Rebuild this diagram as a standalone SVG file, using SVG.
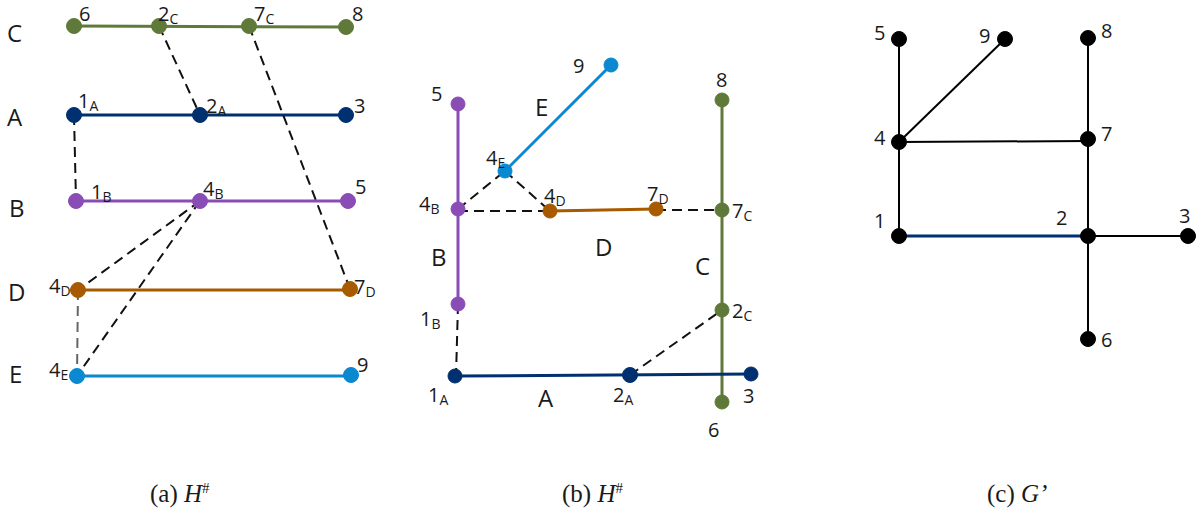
<svg xmlns="http://www.w3.org/2000/svg" width="1200" height="510" viewBox="0 0 1200 510">
<style>
text{font-family:"Open Sans","Noto Sans","DejaVu Sans",sans-serif;fill:#1a1a1a;}
.n{font-size:20px;}
.s{font-size:14px;}
.big{font-size:24px;}
.cap{font-family:"Liberation Serif",serif;font-size:25px;}
.dash{stroke:#111;stroke-width:2;stroke-dasharray:10,6;fill:none;}
.gdash{stroke:#666;stroke-width:2;stroke-dasharray:10,6;fill:none;}
.olive{stroke:#5f7a38;fill:#5f7a38;}
.navy{stroke:#003070;fill:#003070;}
.purple{stroke:#8a4cb5;fill:#8a4cb5;}
.brown{stroke:#a85a00;fill:#a85a00;}
.blue{stroke:#0a88d0;fill:#0a88d0;}
.blk{stroke:#000;fill:#000;}
line{stroke-width:3;}
</style>
<rect width="1200" height="510" fill="#fff"/>

<!-- Panel a -->
<g id="connectors-a">
<line class="olive" x1="74" y1="26" x2="346" y2="27"/>
<line class="navy" x1="74" y1="115" x2="346" y2="115"/>
<line class="purple" x1="76" y1="201" x2="348" y2="201"/>
<line class="brown" x1="78" y1="290" x2="350" y2="290"/>
<line class="blue" x1="77" y1="376" x2="351" y2="376"/>
<path class="dash" d="M159,26 L200,115"/>
<path class="dash" d="M249,26 L350,289"/>
<path class="dash" d="M74,115 L76,201"/>
<path class="dash" d="M200,201 L78,290"/>
<path class="dash" d="M200,201 L77,376"/>
<path class="gdash" d="M78,290 L77,376"/>
</g>
<g id="labels-a">
<text class="big" x="7" y="42">C</text>
<text class="big" x="7" y="126">A</text>
<text class="big" x="9" y="217">B</text>
<text class="big" x="8" y="301">D</text>
<text class="big" x="9" y="383">E</text>
</g>
<g id="a-6"><circle class="olive" cx="74" cy="26" r="7.5"/><text class="n" x="79" y="21">6</text></g>
<g id="a-2C"><circle class="olive" cx="159" cy="26" r="7.5"/><text class="n" x="158" y="21">2<tspan class="s" dy="3">C</tspan></text></g>
<g id="a-7C"><circle class="olive" cx="249" cy="26" r="7.5"/><text class="n" x="254" y="21">7<tspan class="s" dy="3">C</tspan></text></g>
<g id="a-8"><circle class="olive" cx="346" cy="27" r="7.5"/><text class="n" x="352" y="21">8</text></g>
<g id="a-1A"><circle class="navy" cx="74" cy="115" r="7.5"/><text class="n" x="78" y="108">1<tspan class="s" dy="3">A</tspan></text></g>
<g id="a-2A"><circle class="navy" cx="200" cy="115" r="7.5"/><text class="n" x="206" y="113">2<tspan class="s" dy="3">A</tspan></text></g>
<g id="a-3"><circle class="navy" cx="346" cy="115" r="7.5"/><text class="n" x="354" y="113">3</text></g>
<g id="a-1B"><circle class="purple" cx="76" cy="201" r="7.5"/><text class="n" x="91" y="199">1<tspan class="s" dy="3">B</tspan></text></g>
<g id="a-4B"><circle class="purple" cx="200" cy="201" r="7.5"/><text class="n" x="203" y="196">4<tspan class="s" dy="3">B</tspan></text></g>
<g id="a-5"><circle class="purple" cx="348" cy="201" r="7.5"/><text class="n" x="355" y="194">5</text></g>
<g id="a-4D"><circle class="brown" cx="78" cy="290" r="7.5"/><text class="n" x="49" y="293">4<tspan class="s" dy="3">D</tspan></text></g>
<g id="a-7D"><circle class="brown" cx="350" cy="289" r="7.5"/><text class="n" x="354" y="294">7<tspan class="s" dy="3">D</tspan></text></g>
<g id="a-4E"><circle class="blue" cx="77" cy="376" r="7.5"/><text class="n" x="49" y="377">4<tspan class="s" dy="3">E</tspan></text></g>
<g id="a-9"><circle class="blue" cx="351" cy="375" r="7.5"/><text class="n" x="357" y="372">9</text></g>

<!-- Panel b -->
<g id="connectors-b">
<line class="purple" x1="458" y1="104" x2="458" y2="304"/>
<line class="blue" x1="505" y1="171" x2="611" y2="65"/>
<line class="brown" x1="550" y1="211" x2="656" y2="209"/>
<line class="olive" x1="722" y1="100" x2="722" y2="402"/>
<line class="navy" x1="455" y1="376" x2="751" y2="374"/>
<path class="dash" d="M458,209 L505,171"/>
<path class="dash" d="M505,171 L550,211"/>
<path class="dash" d="M458,211 L550,211"/>
<path class="dash" d="M656,210 L722,210"/>
<path class="dash" d="M458,304 L456,376"/>
<path class="dash" d="M630,375 L722,310"/>
</g>
<g id="labels-b">
<text class="big" x="535" y="116">E</text>
<text class="big" x="595" y="256">D</text>
<text class="big" x="431" y="266">B</text>
<text class="big" x="695" y="275">C</text>
<text class="big" x="538" y="407">A</text>
</g>
<g id="b-5"><circle class="purple" cx="458" cy="104" r="7"/><text class="n" x="431" y="101">5</text></g>
<g id="b-4B"><circle class="purple" cx="458" cy="209" r="7"/><text class="n" x="419" y="211">4<tspan class="s" dy="3">B</tspan></text></g>
<g id="b-1B"><circle class="purple" cx="458" cy="304" r="7"/><text class="n" x="420" y="326">1<tspan class="s" dy="3">B</tspan></text></g>
<g id="b-4E"><circle class="blue" cx="505" cy="171" r="7"/><text class="n" x="486" y="165">4<tspan class="s" dy="3">E</tspan></text></g>
<g id="b-9"><circle class="blue" cx="611" cy="65" r="7"/><text class="n" x="573" y="73">9</text></g>
<g id="b-4D"><circle class="brown" cx="550" cy="211" r="7"/><text class="n" x="544" y="203">4<tspan class="s" dy="3">D</tspan></text></g>
<g id="b-7D"><circle class="brown" cx="656" cy="209" r="7"/><text class="n" x="647" y="201">7<tspan class="s" dy="3">D</tspan></text></g>
<g id="b-8"><circle class="olive" cx="722" cy="100" r="7"/><text class="n" x="716" y="87">8</text></g>
<g id="b-7C"><circle class="olive" cx="722" cy="210" r="7"/><text class="n" x="732" y="218">7<tspan class="s" dy="3">C</tspan></text></g>
<g id="b-2C"><circle class="olive" cx="722" cy="310" r="7"/><text class="n" x="732" y="318">2<tspan class="s" dy="3">C</tspan></text></g>
<g id="b-6"><circle class="olive" cx="722" cy="402" r="7"/><text class="n" x="708" y="437">6</text></g>
<g id="b-1A"><circle class="navy" cx="455" cy="376" r="7"/><text class="n" x="428" y="402">1<tspan class="s" dy="3">A</tspan></text></g>
<g id="b-2A"><circle class="navy" cx="630" cy="375" r="7.5"/><text class="n" x="613" y="402">2<tspan class="s" dy="3">A</tspan></text></g>
<g id="b-3"><circle class="navy" cx="751" cy="374" r="7"/><text class="n" x="743" y="403">3</text></g>

<!-- Panel c -->
<g id="connectors-c">
<line class="blk" style="stroke-width:2" x1="899" y1="39" x2="899" y2="236"/>
<line class="blk" style="stroke-width:2" x1="899" y1="142" x2="1005" y2="39"/>
<line class="blk" style="stroke-width:2" x1="899" y1="142" x2="1088" y2="141"/>
<line class="blk" style="stroke-width:2" x1="1088" y1="38" x2="1088" y2="339"/>
<line class="navy" x1="899" y1="236" x2="1088" y2="236"/>
<line class="blk" style="stroke-width:2" x1="1088" y1="236" x2="1188" y2="236"/>
</g>
<g id="c-5"><circle class="blk" cx="899" cy="39" r="7.5"/><text class="n" x="874" y="40">5</text></g>
<g id="c-9"><circle class="blk" cx="1005" cy="39" r="7.5"/><text class="n" x="979" y="43">9</text></g>
<g id="c-8"><circle class="blk" cx="1088" cy="38" r="7.5"/><text class="n" x="1101" y="38">8</text></g>
<g id="c-4"><circle class="blk" cx="899" cy="142" r="7.5"/><text class="n" x="874" y="145">4</text></g>
<g id="c-7"><circle class="blk" cx="1088" cy="139" r="7.5"/><text class="n" x="1101" y="141">7</text></g>
<g id="c-1"><circle class="blk" cx="899" cy="236" r="7.5"/><text class="n" x="874" y="228">1</text></g>
<g id="c-2"><circle class="blk" cx="1088" cy="236" r="7.5"/><text class="n" x="1056" y="225">2</text></g>
<g id="c-3"><circle class="blk" cx="1188" cy="236" r="7.5"/><text class="n" x="1179" y="223">3</text></g>
<g id="c-6"><circle class="blk" cx="1088" cy="339" r="7.5"/><text class="n" x="1101" y="347">6</text></g>

<g id="captions">
<text class="cap" x="150" y="502">(a) <tspan font-style="italic">H</tspan><tspan font-size="15" dy="-9">#</tspan></text>
<text class="cap" x="562" y="502">(b) <tspan font-style="italic">H</tspan><tspan font-size="15" dy="-9">#</tspan></text>
<text class="cap" x="987" y="502">(c) <tspan font-style="italic">G’</tspan></text>
</g>
</svg>
